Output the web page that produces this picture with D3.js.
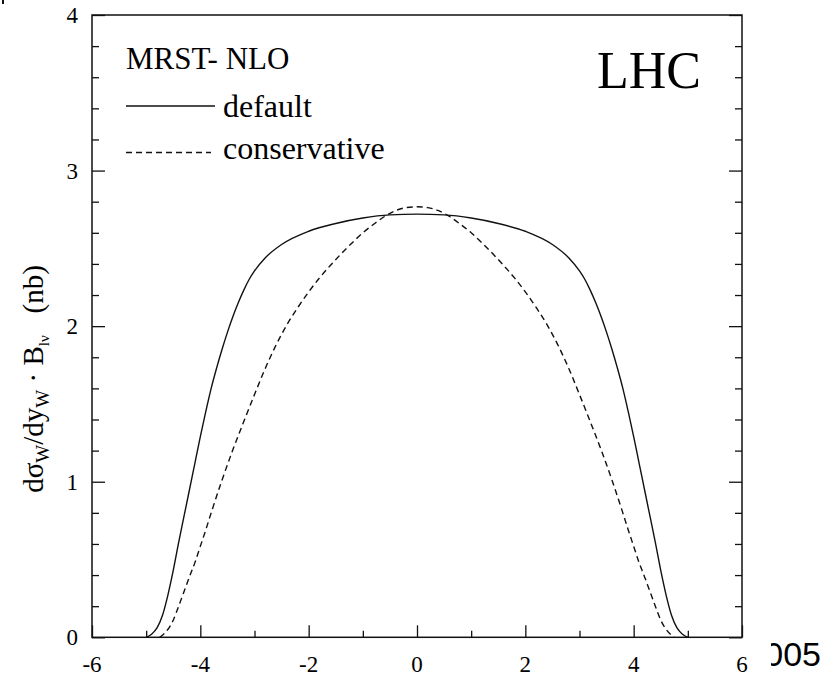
<!DOCTYPE html>
<html><head><meta charset="utf-8">
<script src="https://cdn.jsdelivr.net/npm/d3@7"></script>
<style>body{margin:0;background:#fff}svg{display:block}</style>
</head><body>
<svg id="c" width="825" height="678" font-family="'Liberation Serif','Times New Roman',Times,serif"></svg>
<script>
// rapidity values and cross sections (nb)
const yDefault = [-5.0,-4.9,-4.8,-4.7,-4.6,-4.5,-4.4,-4.3,-4.2,-4.1,-4.0,-3.9,-3.8,-3.7,-3.6,-3.5,-3.4,-3.3,-3.2,-3.1,-3.0,-2.8,-2.5,-2.0,-1.5,-1.0,-0.5,0,
                  0.5,1.0,1.5,2.0,2.5,2.8,3.0,3.1,3.2,3.3,3.4,3.5,3.6,3.7,3.8,3.9,4.0,4.1,4.2,4.3,4.4,4.5,4.6,4.7,4.8,4.9,5.0];
const sDefault = [0,0.02,0.06,0.14,0.27,0.43,0.61,0.78,0.95,1.12,1.29,1.45,1.60,1.73,1.85,1.96,2.06,2.15,2.23,2.30,2.355,2.44,2.525,2.61,2.66,2.695,2.715,2.72,
                  2.715,2.695,2.66,2.61,2.525,2.44,2.355,2.30,2.23,2.15,2.06,1.96,1.85,1.73,1.60,1.45,1.29,1.12,0.95,0.78,0.61,0.43,0.27,0.14,0.06,0.02,0];
const yCons = [-4.75,-4.6,-4.5,-4.4,-4.3,-4.2,-4.1,-4.0,-3.9,-3.8,-3.6,-3.4,-3.2,-3.0,-2.8,-2.6,-2.4,-2.2,-2.0,-1.8,-1.6,-1.4,-1.2,-1.0,-0.8,-0.6,-0.4,-0.2,0,
               0.2,0.4,0.6,0.8,1.0,1.2,1.4,1.6,1.8,2.0,2.2,2.4,2.6,2.8,3.0,3.2,3.4,3.6,3.8,3.9,4.0,4.1,4.2,4.3,4.4,4.5,4.6,4.75];
const sCons = [0,0.05,0.11,0.2,0.295,0.39,0.48,0.585,0.69,0.80,1.01,1.205,1.385,1.56,1.73,1.88,2.01,2.12,2.22,2.31,2.39,2.465,2.535,2.60,2.655,2.705,2.742,2.762,2.767,
               2.762,2.742,2.705,2.655,2.60,2.535,2.465,2.39,2.31,2.22,2.12,2.01,1.88,1.73,1.56,1.385,1.205,1.01,0.80,0.69,0.585,0.48,0.39,0.295,0.2,0.11,0.05,0];
const xTickVals = [-6,-4,-2,0,2,4,6];
const yTickVals = [0,1,2,3,4];
const seriesNames = ["default","conservative"];

const svg = d3.select("#c");
const L=92,R=742,T=15,B=637.3;
const x = d3.scaleLinear().domain([-6,6]).range([L,R]);
const y = d3.scaleLinear().domain([0,4]).range([B,T]);
const ink="#111";

// frame
svg.append("rect").attr("x",L).attr("y",T).attr("width",R-L).attr("height",B-T)
  .attr("fill","none").attr("stroke",ink).attr("stroke-width",1.5);

// x ticks (bottom, inward)
const xg = svg.append("g").attr("transform",`translate(0,${B})`)
  .call(d3.axisBottom(x).tickValues(d3.range(-6,6.01,1)).tickSize(-7).tickFormat(""));
xg.select(".domain").remove();
xg.selectAll(".tick line").attr("stroke",ink).attr("stroke-width",1.3)
  .attr("y2",d=>Math.abs(d%2)<1e-6?-12:-6.5);
// y ticks left & right
function yt(gen,pos,sign){
  const g = svg.append("g").attr("transform",`translate(${pos},0)`)
    .call(gen(y).tickValues(d3.range(0,4.001,0.2)).tickFormat(""));
  g.select(".domain").remove();
  g.selectAll(".tick line").attr("stroke",ink).attr("stroke-width",1.3)
    .attr("x2",d=>sign*(Math.abs(d-Math.round(d))<1e-6?13:7));
}
yt(d3.axisLeft,L,1);
yt(d3.axisRight,R,-1);

// tick labels
svg.append("g").selectAll("text").data(xTickVals).join("text")
  .attr("x",d=>x(d)).attr("y",672).attr("text-anchor","middle").attr("font-size",23)
  .text(d=>d);
svg.append("g").selectAll("text").data(yTickVals).join("text")
  .attr("x",78).attr("y",d=>y(d)+8).attr("text-anchor","end").attr("font-size",23)
  .text(d=>d);

// curves
const line = d3.line().x(d=>x(d[0])).y(d=>y(d[1])).curve(d3.curveMonotoneX);
svg.append("path").datum(yDefault.map((v,i)=>[v,sDefault[i]])).attr("d",line)
  .attr("fill","none").attr("stroke",ink).attr("stroke-width",1.4);
svg.append("path").datum(yCons.map((v,i)=>[v,sCons[i]])).attr("d",line)
  .attr("fill","none").attr("stroke",ink).attr("stroke-width",1.4).attr("stroke-dasharray","6,4");

// legend
svg.append("text").attr("x",126).attr("y",69).attr("font-size",31).text("MRST- NLO");
svg.append("line").attr("x1",126).attr("x2",215).attr("y1",106).attr("y2",106).attr("stroke",ink).attr("stroke-width",1.3);
svg.append("text").attr("x",223).attr("y",117).attr("font-size",32).text(seriesNames[0]);
svg.append("line").attr("x1",126).attr("x2",211).attr("y1",152.5).attr("y2",152.5).attr("stroke",ink).attr("stroke-width",1.3).attr("stroke-dasharray","6,4");
svg.append("text").attr("x",223).attr("y",159).attr("font-size",32).text(seriesNames[1]);
svg.append("text").attr("x",701).attr("y",88).attr("text-anchor","end").attr("font-size",52).text("LHC");

// y axis label
const yl = svg.append("text").attr("transform","translate(43,379) rotate(-90)")
  .attr("text-anchor","middle").attr("font-size",29);
yl.append("tspan").text("dσ");
yl.append("tspan").attr("font-size",19).attr("dy",6).text("W");
yl.append("tspan").attr("dy",-6).text("/dy");
yl.append("tspan").attr("font-size",19).attr("dy",6).text("W");
yl.append("tspan").attr("dy",-6).text(" \u00B7 B");
yl.append("tspan").attr("font-size",15).attr("dy",6).text("lν");
yl.append("tspan").attr("dy",-6).text("\u00A0\u00A0\u00A0(nb)");

// cropped artefacts at the picture's edges
svg.append("defs").append("clipPath").attr("id","cl").append("rect")
  .attr("x",771).attr("y",630).attr("width",60).attr("height",48);
svg.append("text").attr("clip-path","url(#cl)").attr("x",821).attr("y",666)
  .attr("text-anchor","end").attr("font-size",34)
  .attr("font-family","'Liberation Sans',Arial,sans-serif").text("005");
svg.append("rect").attr("x",2).attr("y",0).attr("width",2).attr("height",4).attr("fill",ink);
</script>
</body></html>
